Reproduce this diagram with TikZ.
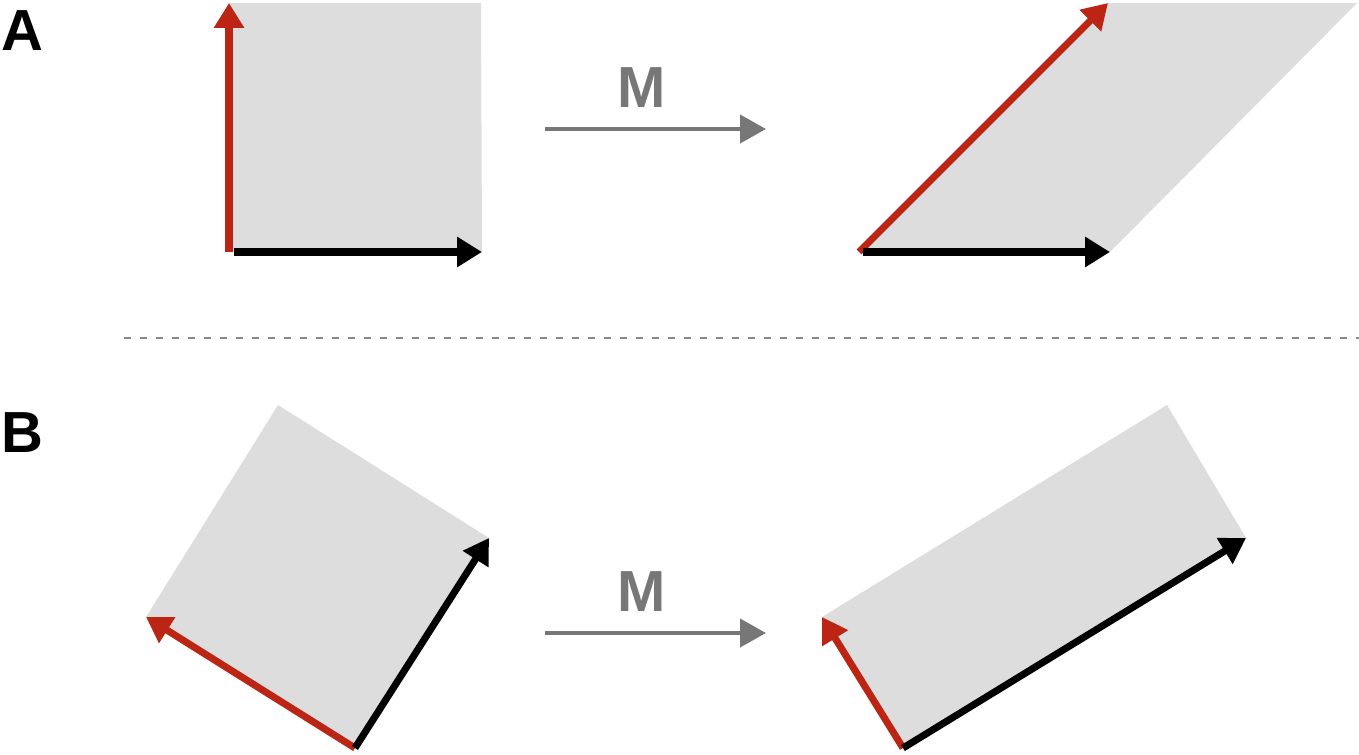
\documentclass[tikz,border=0pt]{standalone}
\usepackage{fontspec}
\setmainfont{Liberation Sans}
\usetikzlibrary{arrows.meta,positioning}
\definecolor{VecRed}{HTML}{BC2414}
\definecolor{Sheet}{HTML}{DDDDDD}
\definecolor{MapGrey}{HTML}{777777}
\definecolor{SepGrey}{HTML}{8A8A8A}
\tikzset{
  sheet/.style={fill=Sheet,draw=none},
  vec/.style={-{Triangle[length=.5cm,width=.58cm]},line width=4pt},
  redvec/.style={vec,draw=VecRed,fill=VecRed},
  blackvec/.style={vec,draw=black,fill=black},
  maparrow/.style={-{Triangle[length=.52cm,width=.56cm]},draw=MapGrey,fill=MapGrey,line width=2.3pt},
  maplabel/.style={font=\fontsize{33}{40}\selectfont\bfseries,text=MapGrey,inner sep=0pt,anchor=base},
  panellabel/.style={font=\fontsize{33}{40}\selectfont\bfseries,inner sep=0pt,anchor=base west},
  sep/.style={draw=SepGrey,line width=1.7pt,dash pattern=on .14cm off .18cm}
}
\begin{document}
\begin{tikzpicture}[x=0.02cm,y=-0.02cm]
  \useasboundingbox (0,0) rectangle (1359,754);
  % panel A
  \node[panellabel] (lblA) at (1,50) {A};
  \coordinate (oA) at (229,252); \coordinate (eA) at (482,252);
  \coordinate (fA) at (229,3); \coordinate (gA) at (481,3);
  \fill[sheet] (oA) -- (eA) -- (gA) -- (fA) -- cycle;
  \draw[redvec] (oA) -- (fA);
  \draw[blackvec] ([xshift=3]oA) -- (eA);
  \coordinate (mAs) at (545,129); \coordinate (mAe) at (766,129);
  \draw[maparrow] (mAs) -- (mAe);
  \node[maplabel] (MA) at (642,107) {M};
  \coordinate (pA) at (859,252); \coordinate (qA) at (1110,252);
  \coordinate (rA) at (1108,3); \coordinate (sA) at (1357,3);
  \fill[sheet] (pA) -- (qA) -- (sA) -- (rA) -- cycle;
  \draw[redvec] (pA) -- (rA);
  \draw[blackvec] ([xshift=2]pA) -- (qA);
  % separator
  \coordinate (sepL) at (124,338); \coordinate (sepR) at (1359,338);
  \draw[sep] (sepL) -- (sepR);
  % panel B
  \node[panellabel] (lblB) at (1,452) {B};
  \coordinate (oB) at (355,748); \coordinate (eB) at (489,538);
  \coordinate (fB) at (146,617); \coordinate (gB) at (278,405);
  \fill[sheet] (oB) -- (eB) -- (gB) -- (fB) -- cycle;
  \draw[redvec] (oB) -- (fB);
  \draw[blackvec] (oB) -- (eB);
  \coordinate (mBs) at (545,633); \coordinate (mBe) at (766,633);
  \draw[maparrow] (mBs) -- (mBe);
  \node[maplabel] (MB) at (642,611) {M};
  \coordinate (pB) at (903,748); \coordinate (qB) at (1246,538);
  \coordinate (rB) at (822,617); \coordinate (sB) at (1167,405);
  \fill[sheet] (pB) -- (qB) -- (sB) -- (rB) -- cycle;
  \draw[redvec] (pB) -- (rB);
  \draw[blackvec] (pB) -- (qB);
\end{tikzpicture}
\end{document}
